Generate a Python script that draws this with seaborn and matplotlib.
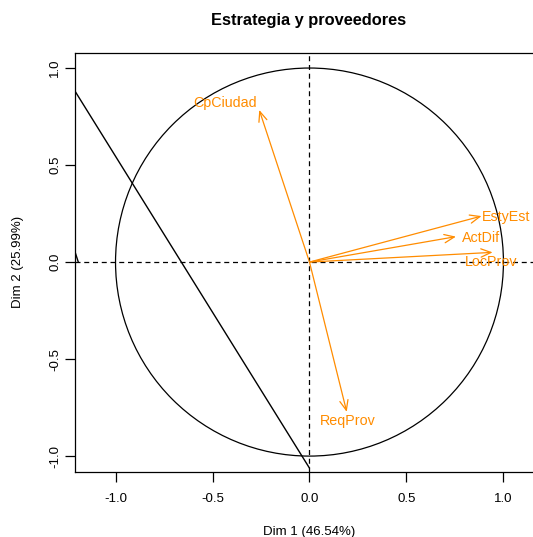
import numpy as np
import pandas as pd
import matplotlib
matplotlib.use("Agg")
import matplotlib.pyplot as plt
from matplotlib.patches import Circle
import seaborn as sns

# Variable coordinates (Dim 1, Dim 2)
variables = ["CpCiudad", "EstyEst", "ActDif", "LocProv", "ReqProv"]
dim1 = [-0.259, 0.887, 0.755, 0.944, 0.192]
dim2 = [0.784, 0.237, 0.131, 0.050, -0.772]
# label positions
label_x = [-0.436, 1.012, 0.884, 0.939, 0.197]
label_y = [0.822, 0.230, 0.122, 0.000, -0.818]

# stray black segments in the original
seg_id = ["a", "a", "b", "b"]
seg_x = [-1.209, 0.0, -1.209, -1.192]
seg_y = [0.881, -1.062, 0.053, 0.0]

title = "Estrategia y proveedores"
xlabel = "Dim 1 (46.54%)"
ylabel = "Dim 2 (25.99%)"
ticks = [-1.0, -0.5, 0.0, 0.5, 1.0]

sns.set_theme(style="white")
plt.rcParams["font.family"] = ["Liberation Sans", "DejaVu Sans"]
plt.rcParams["text.color"] = "black"

W, H = 533, 537
fig = plt.figure(figsize=(W / 100, H / 100), dpi=100)
left, right, top, bottom = 75, 543, 52.7, 472
ax = fig.add_axes([left / W, (H - bottom) / H, (right - left) / W, (bottom - top) / H])

ax.set_xlim(-1.209, 1.204)
ax.set_ylim(-1.082, 1.079)

orange = "#FF8C00"

ax.axhline(0, color="black", lw=0.9, ls=(0, (4, 3)))
ax.axvline(0, color="black", lw=0.9, ls=(0, (4, 3)))
ax.add_patch(Circle((0, 0), 1.0, fill=False, ec="black", lw=0.9))

segs = pd.DataFrame({"id": seg_id, "x": seg_x, "y": seg_y})
sns.lineplot(data=segs, x="x", y="y", units="id", estimator=None,
             sort=False, color="black", lw=1.0, ax=ax, legend=False)
ax.set_xlabel("")
ax.set_ylabel("")

for name, x, y, lx, ly in zip(variables, dim1, dim2, label_x, label_y):
    ax.annotate("", xy=(x, y), xytext=(0, 0),
                arrowprops=dict(arrowstyle="->,head_length=0.6,head_width=0.25",
                                color=orange, lw=0.9, shrinkA=0, shrinkB=0))
    ax.text(lx, ly, name, color=orange, fontsize=10.3, ha="center", va="center")

ax.set_xticks(ticks)
ax.set_yticks(ticks)
ax.set_xticklabels([f"{t:.1f}" for t in ticks], fontsize=9.5)
ax.set_yticklabels([f"{t:.1f}" for t in ticks], fontsize=9.5, rotation=90, va="center")
ax.tick_params(axis="both", direction="out", length=7, width=0.9, color="black",
               labelcolor="black", bottom=True, left=True)
ax.tick_params(axis="x", pad=8)
ax.tick_params(axis="y", pad=3)
for s in ax.spines.values():
    s.set_color("black")
    s.set_linewidth(0.9)

fig.text(309 / W, 1 - 531.7 / H, xlabel, ha="center", va="center", fontsize=9.5, color="black")
fig.text(18 / W, 1 - 262 / H, ylabel, ha="center", va="center", fontsize=9.5, rotation=90, color="black")
fig.text(309 / W, 1 - 20 / H, title, ha="center", va="center", fontsize=11.8,
         fontweight="bold", color="black")

fig.savefig("out.png", dpi=100)
